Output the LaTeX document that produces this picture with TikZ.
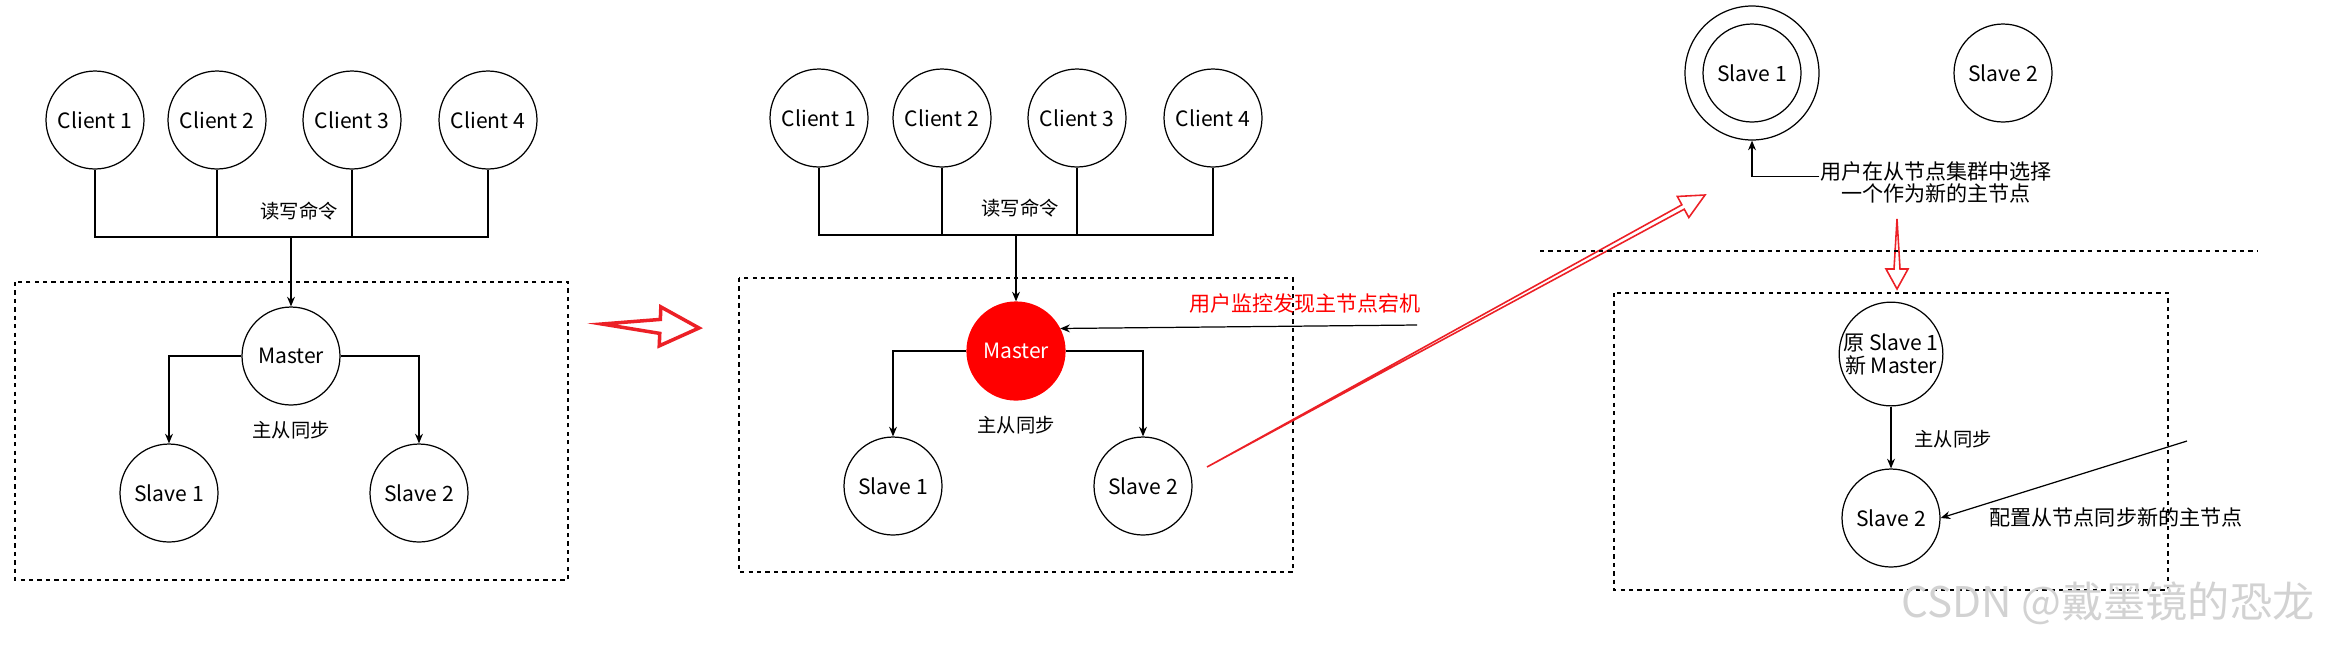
\documentclass[tikz,border=0pt]{standalone}
\usepackage{fontspec}
\setmainfont{Noto Sans CJK SC}
\usetikzlibrary{arrows.meta,calc,positioning}
\definecolor{mred}{RGB}{255,0,0}
\definecolor{arred}{RGB}{236,32,38}
% hollow red arrow: [line width]{tail}{tip}{head length}{shaft half width}{head half width}
\newcommand{\hollowarrow}[6][1pt]{%
  \coordinate (hb) at ($(#3)!#4!(#2)$);
  \draw[arred,line width=#1,line join=miter]
    (#2) -- ($(hb)!#5!90:(#3)$) -- ($(hb)!#6!90:(#3)$) -- (#3)
    -- ($(hb)!#6!-90:(#3)$) -- ($(hb)!#5!-90:(#3)$) -- cycle;}

\begin{document}
\begin{tikzpicture}[x=0.02cm,y=-0.02cm,line width=0.7pt,
  >={Stealth[length=5.5pt,width=4.5pt]},
  nd/.style={circle,draw,minimum size=1.96cm,inner sep=0pt,font=\fontsize{12}{13}\selectfont},
  lbl/.style={font=\fontsize{11}{13}\selectfont},
  note/.style={font=\fontsize{12}{12.5}\selectfont},
  box/.style={dash pattern=on 2.4pt off 2.4pt}]
  \useasboundingbox (0,0) rectangle (2331,647);

  % --- before: clients write to master ---
  \foreach \i/\x in {1/95,2/217,3/352,4/488}
    \node[nd] (ac\i) at (\x,120) {Client \i};
  \coordinate (abus) at (291,237);
  \draw (ac1.south) |- (ac4.south |- abus) -- (ac4.south);
  \foreach \i in {2,3} \draw (ac\i.south) -- (ac\i.south |- abus);
  \node[lbl] (acmd) at (299,211) {读写命令};
  \draw[box] (15,282) rectangle (568,580);
  \node[nd] (am) at (291,356) {Master};
  \draw[->] (abus) -- (am);
  \node[nd] (as1) at (169,493) {Slave 1};
  \node[nd] (as2) at (419,493) {Slave 2};
  \draw[->] (am) -| (as1);
  \draw[->] (am) -| (as2);
  \node[lbl] (async) at (291,430) {主从同步};

  % step arrow
  \coordinate (t1a) at (602,324);
  \coordinate (t1b) at (699,328);
  \hollowarrow[2pt]{t1a}{t1b}{0.78cm}{0.14cm}{0.39cm}

  % --- master goes down ---
  \foreach \i/\x in {1/819,2/942,3/1077,4/1213}
    \node[nd] (bc\i) at (\x,118) {Client \i};
  \coordinate (bbus) at (1016,235);
  \draw (bc1.south) |- (bc4.south |- bbus) -- (bc4.south);
  \foreach \i in {2,3} \draw (bc\i.south) -- (bc\i.south |- bbus);
  \node[lbl] (bcmd) at (1020,208) {读写命令};
  \draw[box] (739,278) rectangle (1293,572);
  \node[nd,fill=mred,draw=mred,text=white] (bm) at (1016,351) {Master};
  \draw[->] (bbus) -- (bm);
  \node[nd] (bs1) at (893,486) {Slave 1};
  \node[nd] (bs2) at (1143,486) {Slave 2};
  \draw[->] (bm) -| (bs1);
  \draw[->] (bm) -| (bs2);
  \node[lbl] (bsync) at (1016,425) {主从同步};
  \node[note,text=mred] (bwarn) at (1305,303) {用户监控发现主节点宕机};
  \coordinate (bin) at (1417,325);
  \draw[->] (bin) -- (bm.27);

  % step arrow
  \coordinate (t2a) at (1207,467);
  \coordinate (t2b) at (1705,195);
  \hollowarrow[0.9pt]{t2a}{t2b}{0.5cm}{0.05cm}{0.24cm}

  % --- pick a new master ---
  \node[nd] (cs1) at (1752,73) {Slave 1};
  \node[circle,draw,minimum size=2.68cm] (cs1o) at (cs1) {};
  \node[nd] (cs2) at (2003,73) {Slave 2};
  \node[note,align=center,inner sep=0pt] (cpick) at (1936,182)
    {用户在从节点集群中选择\\一个作为新的主节点};
  \draw[->] ([yshift=3pt]cpick.west) -| (cs1o);
  \coordinate (t3a) at (1897,219);
  \coordinate (t3b) at (1897,289);
  \hollowarrow[0.9pt]{t3a}{t3b}{0.4cm}{0.06cm}{0.22cm}
  \draw[box] (1540,251) -- (2258,251);

  % --- after: new master and slave ---
  \draw[box] (1614,293) rectangle (2168,590);
  \node[nd,align=center] (cm) at (1891,354) {原 Slave 1\\新 Master};
  \node[nd] (cs2n) at (1891,518) {Slave 2};
  \draw[->] (cm) -- (cs2n);
  \node[lbl,anchor=west] (csync) at (1908,439) {主从同步};
  \coordinate (cin) at (2187,441);
  \draw[->] (cin) -- (cs2n.east);
  \node[note,anchor=west] (cconf) at (1983,517) {配置从节点同步新的主节点};

  \node[text=gray!35,font=\fontsize{24}{24}\selectfont] (wm) at (2108,603) {CSDN @戴墨镜的恐龙};
\end{tikzpicture}
\end{document}
